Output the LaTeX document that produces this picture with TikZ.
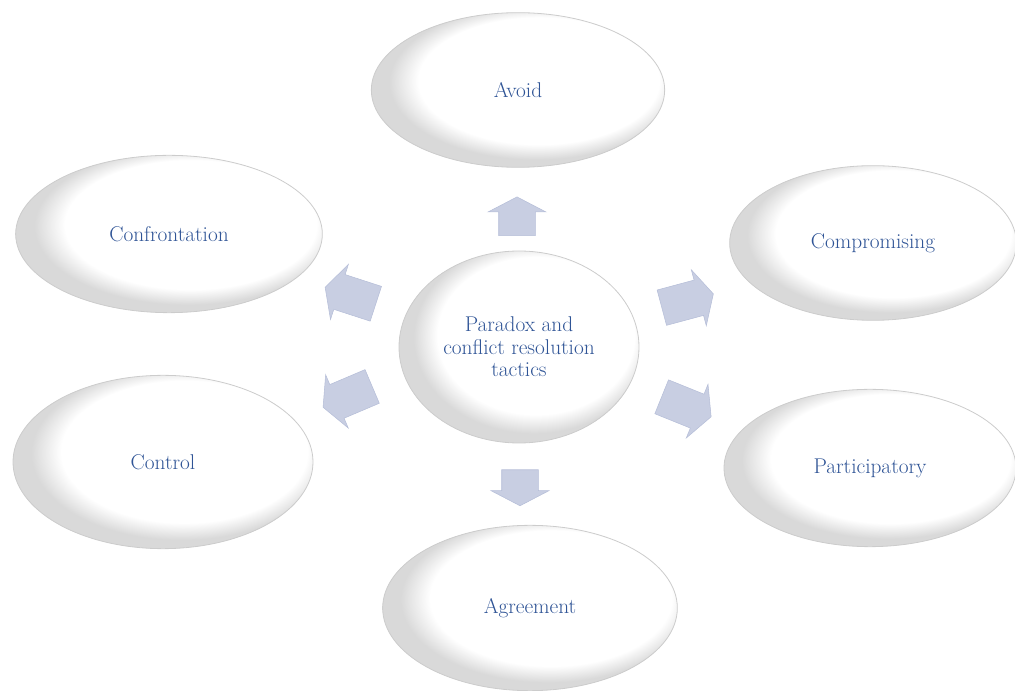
\documentclass[tikz,border=0pt]{standalone}
\usetikzlibrary{shapes.geometric,shapes.arrows}

\definecolor{tacticblue}{RGB}{47,84,150}
\definecolor{arrowfill}{RGB}{200,206,226}
\definecolor{arrowedge}{RGB}{182,190,216}
\pgfdeclareradialshading{rim}{\pgfpoint{6bp}{5bp}}{color(0bp)=(white); color(20.5bp)=(white); color(25bp)=(gray!30); color(50bp)=(gray!30)}

\begin{document}
\begin{tikzpicture}[x=0.75pt,y=-0.75pt,
  tactic/.style={ellipse, shading=rim, draw=gray!40, line width=0.6pt, inner sep=0pt,
    text=tacticblue, font=\fontsize{16}{17}\selectfont, align=center},
  push/.style={single arrow, fill=arrowfill, draw=arrowedge, line width=0.4pt,
    inner xsep=2pt, inner ysep=13.5pt, single arrow head extend=8pt,
    single arrow tip angle=125, minimum height=#1},
  push/.default=40pt]
\useasboundingbox (0,0) rectangle (1015,691);

%Centres of the tactics
\coordinate (H) at (519,347);
\coordinate (Av) at (518,90);
\coordinate (Cf) at (169,234);
\coordinate (Cp) at (873,243);
\coordinate (Ct) at (163,462);
\coordinate (Pa) at (870,468);
\coordinate (Ag) at (530,608);

%Outer tactics
\node [tactic, minimum width=220pt, minimum height=116pt] (avoid) at (Av) {Avoid};
\node [tactic, minimum width=230pt, minimum height=118pt] (confront) at (Cf) {Confrontation};
\node [tactic, minimum width=215pt, minimum height=116pt] (compromise) at (Cp) {Compromising};
\node [tactic, minimum width=225pt, minimum height=130pt] (control) at (Ct) {Control};
\node [tactic, minimum width=219pt, minimum height=118pt] (particip) at (Pa) {Participatory};
\node [tactic, minimum width=221pt, minimum height=124pt] (agree) at (Ag) {Agreement};

%Hub
\node [tactic, minimum width=180pt, minimum height=144pt] (hub) at (H) {Paradox and\\conflict resolution\\tactics};

%Block arrows
\node [push=29pt, rotate=90] (toAvoid) at (517,221) {};
\node [push=27pt, rotate=-90] (toAgree) at (520,483) {};
\node [push, rotate=162] (toConfront) at (355,297) {};
\node [push, rotate=203] (toControl) at (352,395) {};
\node [push, rotate=15] (toCompromise) at (683,302) {};
\node [push, rotate=-22] (toParticip) at (682,405) {};
\end{tikzpicture}
\end{document}
